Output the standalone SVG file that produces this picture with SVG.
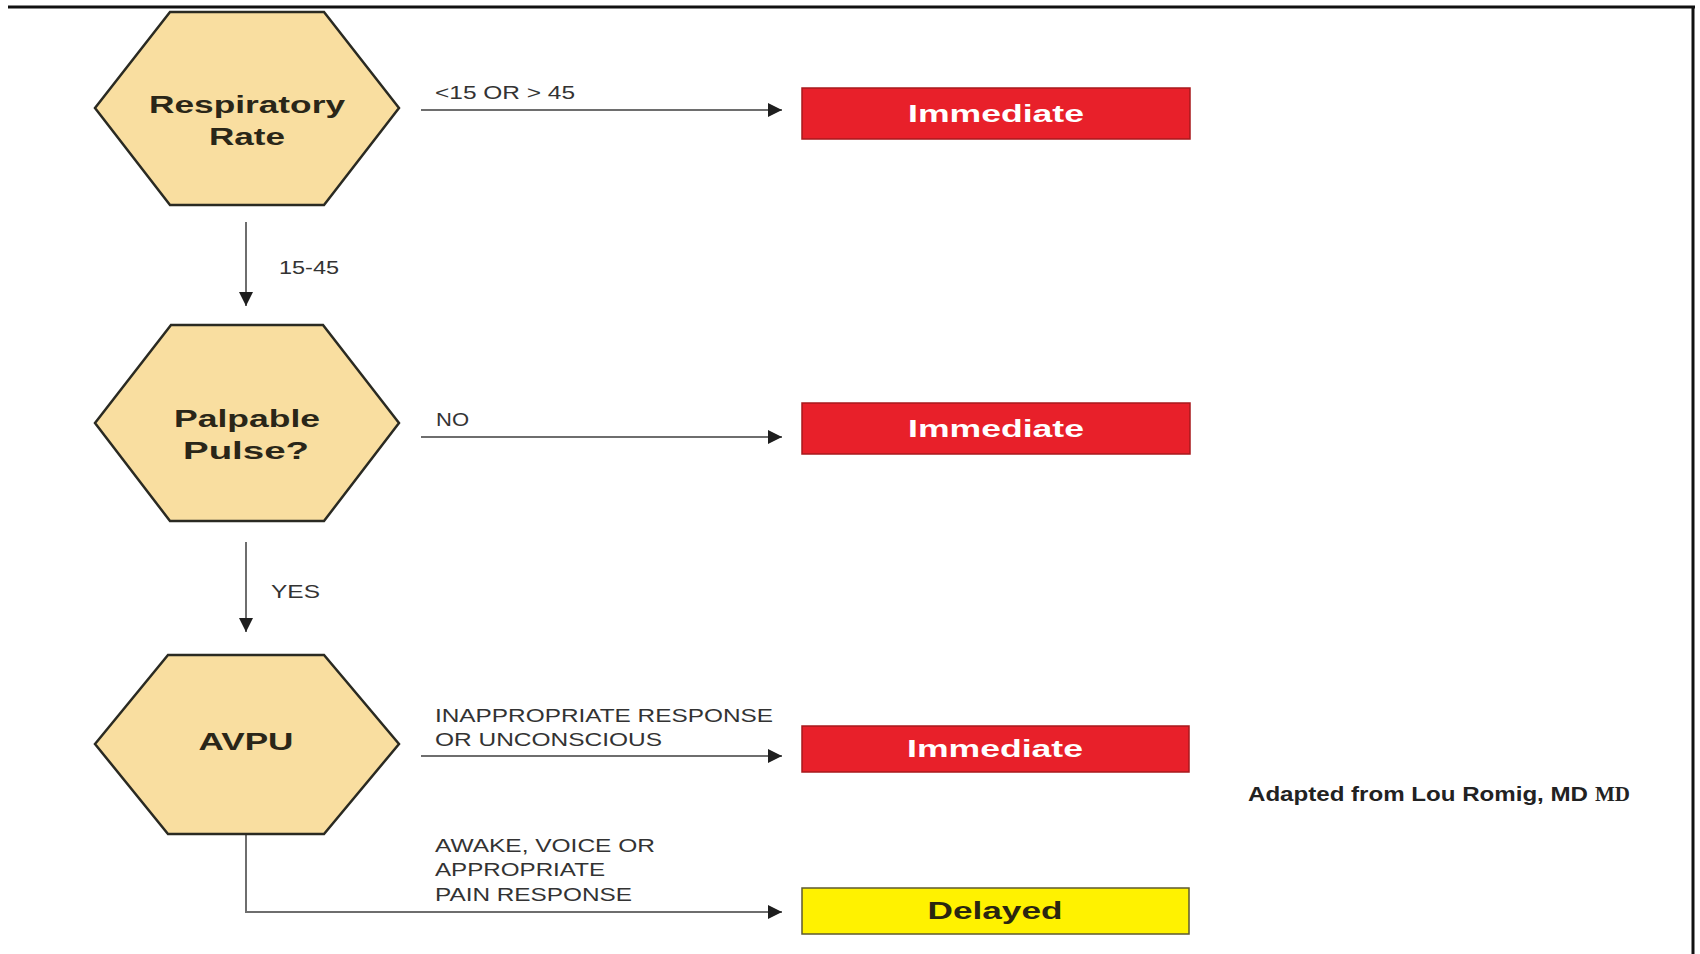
<svg xmlns="http://www.w3.org/2000/svg" width="1700" height="954" viewBox="0 0 1700 954">
<defs>
<style>
.hex{fill:#f9dea0;stroke:#2a2a22;stroke-width:2.5;stroke-linejoin:miter}
.nl{font-family:"Liberation Sans",Arial,sans-serif;font-weight:bold;font-size:23px;fill:#2a2618;text-anchor:middle}
.red{fill:#e8202a;stroke:#a8181c;stroke-width:1.5}
.yel{fill:#fff200;stroke:#5e5a30;stroke-width:1.5}
.bl{font-family:"Liberation Sans",Arial,sans-serif;font-weight:bold;font-size:23px;text-anchor:middle}
.lab{font-family:"Liberation Sans",Arial,sans-serif;font-size:19px;fill:#333333}
.con{fill:none;stroke:#6e6e6e;stroke-width:2}
</style>
<marker id="ah" viewBox="0 0 14 14" refX="14" refY="7" markerWidth="14" markerHeight="14" markerUnits="userSpaceOnUse" orient="auto">
<path d="M0,0 L14,7 L0,14 Z" fill="#1e1e1e"/>
</marker>
</defs>
<rect width="1700" height="954" fill="#ffffff"/>
<g id="frame">
<line x1="8" y1="7" x2="1695" y2="7" stroke="#111" stroke-width="3"/>
<line x1="1693" y1="6" x2="1693" y2="954" stroke="#111" stroke-width="3"/>
</g>
<g id="connectors">
<line class="con" x1="421" y1="110" x2="782" y2="110" marker-end="url(#ah)"/>
<line class="con" x1="246" y1="222" x2="246" y2="306" marker-end="url(#ah)"/>
<line class="con" x1="421" y1="437" x2="782" y2="437" marker-end="url(#ah)"/>
<line class="con" x1="246" y1="542" x2="246" y2="632" marker-end="url(#ah)"/>
<line class="con" x1="421" y1="756" x2="782" y2="756" marker-end="url(#ah)"/>
<polyline class="con" points="246,834 246,912 782,912" marker-end="url(#ah)"/>
<text class="lab" x="435" y="99" textLength="140" lengthAdjust="spacingAndGlyphs">&lt;15 OR &gt; 45</text>
<text class="lab" x="279" y="274" textLength="60" lengthAdjust="spacingAndGlyphs">15-45</text>
<text class="lab" x="436" y="426" textLength="33" lengthAdjust="spacingAndGlyphs">NO</text>
<text class="lab" x="271" y="598" textLength="49" lengthAdjust="spacingAndGlyphs">YES</text>
<text class="lab" x="435" y="722" textLength="338" lengthAdjust="spacingAndGlyphs">INAPPROPRIATE RESPONSE</text>
<text class="lab" x="435" y="746" textLength="227" lengthAdjust="spacingAndGlyphs">OR UNCONSCIOUS</text>
<text class="lab" x="435" y="852" textLength="220" lengthAdjust="spacingAndGlyphs">AWAKE, VOICE OR</text>
<text class="lab" x="435" y="876" textLength="170" lengthAdjust="spacingAndGlyphs">APPROPRIATE</text>
<text class="lab" x="435" y="901" textLength="197" lengthAdjust="spacingAndGlyphs">PAIN RESPONSE</text>
</g>
<g id="n-resp">
<polygon class="hex" points="95,108 170,12 324,12 399,108 324,205 170,205"/>
<text class="nl" x="247" y="113" textLength="196" lengthAdjust="spacingAndGlyphs">Respiratory</text>
<text class="nl" x="247" y="145" textLength="76" lengthAdjust="spacingAndGlyphs">Rate</text>
</g>
<g id="n-pulse">
<polygon class="hex" points="95,423 171,325 323,325 399,423 324,521 170,521"/>
<text class="nl" x="247" y="427" textLength="146" lengthAdjust="spacingAndGlyphs">Palpable</text>
<text class="nl" x="246" y="459" textLength="126" lengthAdjust="spacingAndGlyphs">Pulse?</text>
</g>
<g id="n-avpu">
<polygon class="hex" points="95,744 168,655 324,655 399,744 324,834 168,834"/>
<text class="nl" x="246" y="750" textLength="95" lengthAdjust="spacingAndGlyphs">AVPU</text>
</g>
<g id="n-imm1">
<rect class="red" x="802" y="88" width="388" height="51"/>
<text class="bl" x="996" y="122" fill="#ffffff" textLength="176" lengthAdjust="spacingAndGlyphs">Immediate</text>
</g>
<g id="n-imm2">
<rect class="red" x="802" y="403" width="388" height="51"/>
<text class="bl" x="996" y="437" fill="#ffffff" textLength="176" lengthAdjust="spacingAndGlyphs">Immediate</text>
</g>
<g id="n-imm3">
<rect class="red" x="802" y="726" width="387" height="46"/>
<text class="bl" x="995" y="757" fill="#ffffff" textLength="176" lengthAdjust="spacingAndGlyphs">Immediate</text>
</g>
<g id="n-delayed">
<rect class="yel" x="802" y="888" width="387" height="46"/>
<text class="bl" x="995" y="919" fill="#2a2610" textLength="135" lengthAdjust="spacingAndGlyphs">Delayed</text>
</g>
<g id="credit">
<text x="1248" y="801" font-family="'Liberation Sans',Arial,sans-serif" font-weight="bold" font-size="20.5" fill="#222" textLength="340" lengthAdjust="spacingAndGlyphs">Adapted from Lou Romig, MD</text>
<text x="1595" y="801" font-family="'Liberation Serif','Times New Roman',serif" font-weight="bold" font-size="20.5" fill="#222" textLength="35" lengthAdjust="spacingAndGlyphs">MD</text>
</g>
</svg>
